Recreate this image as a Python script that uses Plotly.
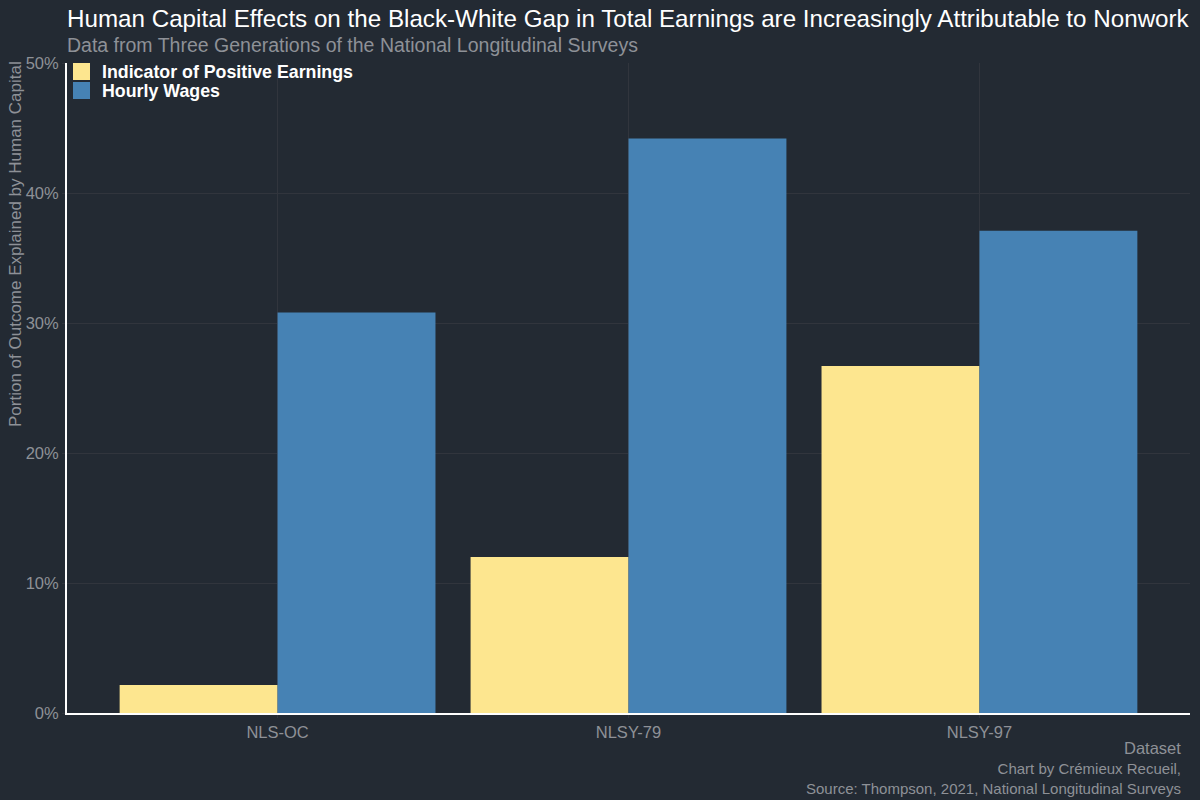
import plotly.graph_objects as go

datasets = ["NLS-OC", "NLSY-79", "NLSY-97"]
positive_earnings = [0.0215, 0.120, 0.267]
hourly_wages = [0.308, 0.442, 0.371]
series_names = ["Indicator of Positive Earnings", "Hourly Wages"]
series_colors = ["#fde68f", "#4682b4"]
y_ticks = [0, 0.1, 0.2, 0.3, 0.4, 0.5]
y_ticklabels = ["0%", "10%", "20%", "30%", "40%", "50%"]

BG = "#232a33"
GRID = "#31353d"
MUTED = "#8e9197"
FONT = "Liberation Sans, Arial, sans-serif"

# plot area in pixels (for legend placement conversions)
L, R, T, B = 67, 10, 63, 87
PW, PH = 1200 - L - R, 800 - T - B


def px_x(px):
    return (px - L) / PW


def px_y(py):
    return (800 - B - py) / PH


fig = go.Figure()
for name, vals, col in zip(series_names, [positive_earnings, hourly_wages], series_colors):
    fig.add_trace(go.Bar(x=datasets, y=vals, name=name,
                         marker=dict(color=col, line=dict(width=0)),
                         showlegend=False))

fig.update_layout(
    width=1200, height=800,
    paper_bgcolor=BG, plot_bgcolor=BG,
    font=dict(family=FONT, color=MUTED, size=16),
    margin=dict(l=L, r=R, t=T, b=B),
    barmode="group", bargap=0.1, bargroupgap=0,
    xaxis=dict(range=[-0.6, 2.6], showgrid=True, gridcolor=GRID, gridwidth=1,
               showline=True, linecolor="white", linewidth=2,
               ticks="outside", ticklen=3, tickcolor=GRID,
               tickfont=dict(size=16.5, color=MUTED), zeroline=False),
    yaxis=dict(range=[0, 0.5], tickvals=y_ticks, ticktext=y_ticklabels,
               showgrid=True, gridcolor=GRID, gridwidth=1,
               showline=True, linecolor="white", linewidth=2,
               ticks="outside", ticklen=3, tickcolor=GRID,
               tickfont=dict(size=16.5, color=MUTED), zeroline=False),
)

# manual legend (square keys, bold labels) in the top-left of the plot
for i, (name, col) in enumerate(zip(series_names, series_colors)):
    y0 = 63 + i * 19
    fig.add_shape(type="rect", xref="paper", yref="paper",
                  x0=px_x(73), x1=px_x(90), y0=px_y(y0 + 17), y1=px_y(y0),
                  fillcolor=col, line=dict(width=0))
    fig.add_annotation(text=f"<b>{name}</b>", xref="paper", yref="paper",
                       x=px_x(100), y=px_y(y0 + 9), xanchor="left", yanchor="middle",
                       showarrow=False, font=dict(family=FONT, size=17.8, color="white"))

fig.add_annotation(text="Human Capital Effects on the Black-White Gap in Total Earnings are Increasingly Attributable to Nonwork",
                   xref="paper", yref="paper", x=-0.002, y=1.0, yshift=45,
                   xanchor="left", yanchor="middle", showarrow=False,
                   font=dict(family=FONT, size=24.2, color="white"))
fig.add_annotation(text="Data from Three Generations of the National Longitudinal Surveys",
                   xref="paper", yref="paper", x=-0.002, y=1.0, yshift=18,
                   xanchor="left", yanchor="middle", showarrow=False,
                   font=dict(family=FONT, size=19.5, color=MUTED))
fig.add_annotation(text="Portion of Outcome Explained by Human Capital",
                   xref="paper", yref="paper", x=0, xshift=-52, y=1.0, yshift=4,
                   xanchor="center", yanchor="top", textangle=-90, showarrow=False,
                   font=dict(family=FONT, size=17, color=MUTED))
fig.add_annotation(text="Dataset",
                   xref="paper", yref="paper", x=0.9935, y=0, yshift=-35,
                   xanchor="right", yanchor="middle", showarrow=False,
                   font=dict(family=FONT, size=16.5, color=MUTED))
fig.add_annotation(text="Chart by Crémieux Recueil,<br>Source: Thompson, 2021, National Longitudinal Surveys",
                   xref="paper", yref="paper", x=0.9935, y=0, yshift=-65,
                   xanchor="right", yanchor="middle", align="right", showarrow=False,
                   font=dict(family=FONT, size=15, color=MUTED))

fig.write_html("out.html")
